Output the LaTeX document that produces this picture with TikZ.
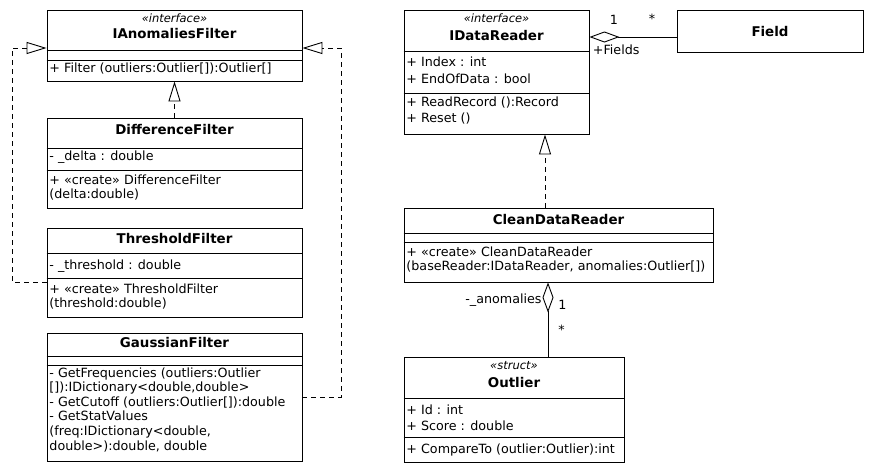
\documentclass[tikz,border=0pt]{standalone}
\usepackage{fontspec}
\setmainfont{DejaVu Sans}
\usetikzlibrary{positioning,arrows.meta}

\begin{document}
\begin{tikzpicture}[x=1pt, y=-1pt, line width=0.9pt,
    cls/.style={draw, inner sep=0pt},
    title/.style={anchor=base, inner sep=0pt, font=\fontsize{13.4}{16}\selectfont\bfseries},
    stereo/.style={anchor=base, inner sep=0pt, font=\fontsize{11.5}{14}\selectfont\itshape},
    member/.style={anchor=base west, inner sep=0pt, align=left, font=\fontsize{12.7}{14.6}\selectfont},
    lbl/.style={inner sep=0pt, font=\fontsize{12.7}{14.6}\selectfont},
    real/.style={dash pattern=on 5pt off 4pt, -{Triangle[open, length=20pt, width=12pt]}},
    aggr/.style={{Diamond[open, length=30pt, width=11pt]}-}]

    \useasboundingbox (0,0) rectangle (872,472);

    \node[cls, minimum width=255pt, minimum height=71pt] (iaf) at (174.5,45.5) {};
    \node[cls, minimum width=255pt, minimum height=90pt] (dif) at (174.5,163) {};
    \node[cls, minimum width=255pt, minimum height=89pt] (thr) at (174.5,272.5) {};
    \node[cls, minimum width=255pt, minimum height=128pt] (gau) at (174.5,397) {};
    \node[cls, minimum width=185pt, minimum height=124pt] (idr) at (496.5,72) {};
    \node[cls, minimum width=186pt, minimum height=42pt] (fld) at (770,31) {};
    \node[cls, minimum width=309pt, minimum height=74pt] (cdr) at (558.5,245) {};
    \node[cls, minimum width=220pt, minimum height=105pt] (out) at (514,409.5) {};

    \foreach \c/\y in {iaf/50, iaf/60, dif/148, dif/170, thr/253, thr/278, gau/356, gau/365,
                       idr/51, idr/93, cdr/233, cdr/242, out/398, out/437}
        \draw (\c.west |- 0,\y) -- (\c.east |- 0,\y);

    % multi-line members sit on the baseline of their last line
    \node[stereo] (iafs) at (174.5,22) {«interface»};
    \node[title] (iafn) at (174.5,38) {IAnomaliesFilter};
    \node[member] (iafo) at (49,72) {+ Filter (outliers:Outlier[]):Outlier[]};

    \node[title] (difn) at (174.5,134) {DifferenceFilter};
    \node[member] (difa) at (49,160) {- \_delta : double};
    \node[member, font=\fontsize{12.7}{14}\selectfont] (difo) at (49,198) {+ «create» DifferenceFilter\\(delta:double)};

    \node[title] (thrn) at (174.5,243) {ThresholdFilter};
    \node[member] (thra) at (49,269) {- \_threshold : double};
    \node[member, font=\fontsize{12.7}{14}\selectfont] (thro) at (49,307) {+ «create» ThresholdFilter\\(threshold:double)};

    \node[title] (gaun) at (174.5,347) {GaussianFilter};
    \node[member] (gauo) at (49,450) {- GetFrequencies (outliers:Outlier\\{[]}):IDictionary<double,double>\\- GetCutoff (outliers:Outlier[]):double\\- GetStatValues\\(freq:IDictionary<double,\\double>):double, double};

    \node[stereo] (idrs) at (496.5,22) {«interface»};
    \node[title] (idrn) at (496.5,40) {IDataReader};
    \node[member, font=\fontsize{12.7}{16.5}\selectfont] (idra) at (406,83) {+ Index : int\\+ EndOfData : bool};
    \node[member, font=\fontsize{12.7}{16}\selectfont] (idro) at (406,122) {+ ReadRecord ():Record\\+ Reset ()};

    \node[title] (fldn) at (770,36) {Field};

    \node[title] (cdrn) at (558.5,224) {CleanDataReader};
    \node[member, font=\fontsize{12.7}{14}\selectfont] (cdro) at (406,270) {+ «create» CleanDataReader\\(baseReader:IDataReader, anomalies:Outlier[])};

    \node[stereo] (outs) at (514,369) {«struct»};
    \node[title] (outn) at (514,387) {Outlier};
    \node[member, font=\fontsize{12.7}{16}\selectfont] (outa) at (406,430) {+ Id : int\\+ Score : double};
    \node[member] (outo) at (406,453) {+ CompareTo (outlier:Outlier):int};

    \draw[real] (dif.north) -- (iaf.south);
    \draw[real] (thr.west |- 0,282) -| (12,48) -- (iaf.west |- 0,48);
    \draw[real] (gau.east |- 0,397) -| (341,48) -- (iaf.east |- 0,48);
    \draw[real] (cdr.north -| 545,0) -- (idr.south -| 545,0);

    \draw[aggr] (idr.east |- 0,37) -- (fld.west |- 0,37)
        node[lbl, pos=.28, anchor=base, yshift=13pt] {1}
        node[lbl, pos=.72, anchor=base, yshift=14pt] {*}
        node[lbl, pos=0, anchor=base west, xshift=3pt, yshift=-17pt] {+Fields};
    \draw[aggr] (cdr.south -| 548,0) -- (out.north -| 548,0)
        node[lbl, pos=0, anchor=base east, xshift=-6pt, yshift=-21pt] {-\_anomalies}
        node[lbl, pos=0, anchor=base west, xshift=10pt, yshift=-27pt] {1}
        node[lbl, pos=0, anchor=base west, xshift=10pt, yshift=-52pt] {*};

\end{tikzpicture}
\end{document}
